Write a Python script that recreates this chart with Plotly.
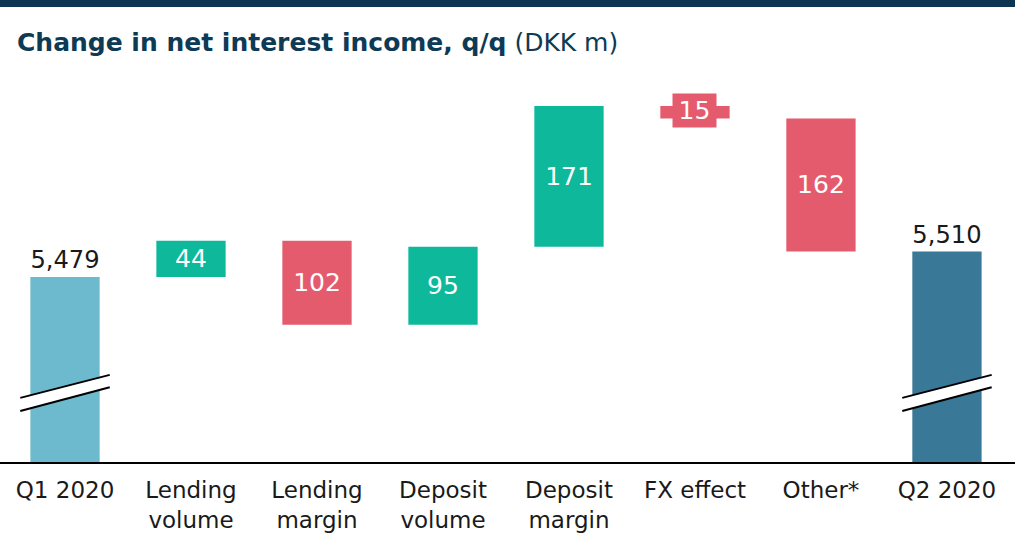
import plotly.graph_objects as go

categories = ["Q1 2020", "Lending<br>volume", "Lending<br>margin", "Deposit<br>volume",
              "Deposit<br>margin", "FX effect", "Other*", "Q2 2020"]
start_value = 5479
changes = [44, -102, 95, 171, -15, -162]
end_value = 5510
labels = ["5,479", "44", "102", "95", "171", "15", "162", "5,510"]

C_Q1 = "#6DBACE"
C_Q2 = "#3A7898"
C_UP = "#0DB89B"
C_DOWN = "#E55B6E"
NAVY = "#0D3A55"
FONT = "DejaVu Sans"

# compute bar bases / heights from the data
xs = list(range(len(categories)))
bases, heights, colors = [], [], []
bases.append(0); heights.append(start_value); colors.append(C_Q1)
level = start_value
for c in changes:
    if c >= 0:
        bases.append(level); heights.append(c); colors.append(C_UP)
    else:
        bases.append(level + c); heights.append(-c); colors.append(C_DOWN)
    level += c
bases.append(0); heights.append(end_value); colors.append(C_Q2)

fig = go.Figure()

# totals (text outside, dark)
fig.add_trace(go.Bar(
    x=[xs[0], xs[-1]], y=[heights[0], heights[-1]], base=[bases[0], bases[-1]],
    marker=dict(color=[colors[0], colors[-1]], line=dict(width=0)),
    width=0.55, text=[labels[0], labels[-1]], textposition="outside",
    textfont=dict(family=FONT, size=25, color="#1a1a1a"), cliponaxis=False,
    hoverinfo="skip"))

# changes (text inside, white); small ones get a tabbed label box
mid = xs[1:-1]
inner_text = [t if abs(c) > 20 else "" for t, c in zip(labels[1:-1], changes)]
fig.add_trace(go.Bar(
    x=mid, y=heights[1:-1], base=bases[1:-1],
    marker=dict(color=colors[1:-1], line=dict(width=0)),
    width=0.55, text=inner_text, textposition="inside", insidetextanchor="middle",
    textfont=dict(family=FONT, size=25, color="white"), textangle=0,
    hoverinfo="skip"))

for i, c in enumerate(changes):
    if abs(c) <= 20:
        k = 1 + i
        fig.add_annotation(x=xs[k], y=bases[k] + heights[k] / 2,
                           text=labels[k], showarrow=False, bgcolor=colors[k],
                           width=41, height=31, yshift=2,
                           font=dict(family=FONT, size=25, color="white"))

# axis-break marks on the total bars
for xc in (xs[0], xs[-1]):
    x0, x1 = xc - 0.355, xc + 0.355
    lo0, lo1, up0, up1 = 5316, 5345, 5332, 5360
    fig.add_shape(type="path",
                  path=f"M {x0},{lo0} L {x1},{lo1} L {x1},{up1} L {x0},{up0} Z",
                  fillcolor="white", line=dict(width=0), xref="x", yref="y")
    fig.add_shape(type="line", x0=x0, y0=lo0, x1=x1, y1=lo1, line=dict(color="black", width=2))
    fig.add_shape(type="line", x0=x0, y0=up0, x1=x1, y1=up1, line=dict(color="black", width=2))

# top band
fig.add_shape(type="rect", xref="paper", yref="paper", x0=-0.01, x1=1.01,
              ysizemode="pixel", yanchor=1, y0=73, y1=82,
              fillcolor="#0B3550", line=dict(width=0))

fig.update_layout(
    width=1015, height=537,
    margin=dict(l=0, r=0, t=80, b=75),
    paper_bgcolor="white", plot_bgcolor="white",
    showlegend=False, barmode="overlay",
    title=dict(text="<b>Change in net interest income, q/q</b> (DKK m)",
               font=dict(family=FONT, size=25, color=NAVY),
               xref="container", yref="container", x=17 / 1015, xanchor="left",
               y=1 - 42 / 537, yanchor="middle"),
    xaxis=dict(tickmode="array", tickvals=xs, ticktext=categories,
               range=[-0.516, 7.54], showgrid=False, zeroline=False,
               showline=True, linecolor="black", linewidth=2, ticks="",
               ticklabelstandoff=6,
               tickfont=dict(family=FONT, size=23, color="#1a1a1a")),
    yaxis=dict(range=[5254, 5718.7], visible=False, showgrid=False, zeroline=False),
)

fig.write_html("out.html", config={"displayModeBar": False},
               post_script="document.body.style.margin='0px';document.body.style.padding='0px';")
